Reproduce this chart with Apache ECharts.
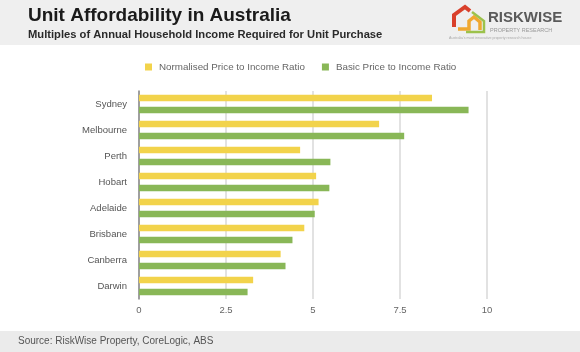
<!DOCTYPE html>
<html><head><meta charset="utf-8">
<script src="https://cdn.jsdelivr.net/npm/echarts@6/dist/echarts.min.js"></script>
<style>html,body{margin:0;padding:0;background:#fff}#c{width:580px;height:352px}</style>
</head><body><div id="c"></div>
<script>
const categories = ['Sydney','Melbourne','Perth','Hobart','Adelaide','Brisbane','Canberra','Darwin'];
const normalised = [8.42, 6.9, 4.63, 5.09, 5.16, 4.75, 4.07, 3.28];
const basic = [9.47, 7.62, 5.5, 5.47, 5.05, 4.41, 4.21, 3.12];
const seriesNames = ['Normalised Price to Income Ratio','Basic Price to Income Ratio'];
const xTicks = [0, 2.5, 5, 7.5, 10];
const titleText = 'Unit Affordability in Australia';
const subtitleText = 'Multiples of Annual Household Income Required for Unit Purchase';
const sourceText = 'Source: RiskWise Property, CoreLogic, ABS';

const chart = echarts.init(document.getElementById('c'), null, {renderer:'canvas'});
const F = 'Liberation Sans, Arial, sans-serif';
chart.setOption({
  animation:false,
  backgroundColor:'#fff',
  graphic:[
    {type:'rect', shape:{x:0,y:0,width:580,height:45}, style:{fill:'#efefef'}, z:-10},
    {type:'rect', shape:{x:0,y:331,width:580,height:21}, style:{fill:'#ebebeb'}, z:-10},
    {type:'text', left:28, top:6, style:{text:titleText, font:'bold 19px '+F, fill:'#1a1a1a'}},
    {type:'text', left:28, top:29, style:{text:subtitleText, font:'bold 11.2px '+F, fill:'#2a2a2a'}},
    {type:'text', left:18, top:336, style:{text:sourceText, font:'10px '+F, fill:'#555'}},
    // logo house
    {type:'polyline', shape:{points:[[454,27],[454,15],[465,7],[470,11]]}, style:{stroke:'#d9402b', lineWidth:4, fill:null}},
    {type:'polyline', shape:{points:[[458,29],[469,29],[469,21],[474,17],[480,22],[480,30]]}, style:{stroke:'#f0a830', lineWidth:3.5, fill:null}},
    {type:'polyline', shape:{points:[[472,12],[484,21],[484,32],[466,32]]}, style:{stroke:'#9cc24b', lineWidth:2.5, fill:null}},
    {type:'text', left:488, top:10, style:{text:'RISKWISE', font:'bold 15px '+F, fill:'#5a5a5a'}},
    {type:'text', left:490, top:27, style:{text:'PROPERTY RESEARCH', font:'5.5px '+F, fill:'#999'}},
    {type:'text', left:449, top:36, style:{text:"Australia's most innovative property research house", font:'3.6px '+F, fill:'#aaa'}}
  ],
  legend:{
    top:62, left:145, padding:0, itemWidth:7, itemHeight:7, itemGap:17, icon:'rect',
    textStyle:{fontSize:9.8, color:'#666', fontFamily:F, padding:[0,0,0,2]},
    data:seriesNames
  },
  grid:{left:139, right:93, top:91, bottom:53, containLabel:false},
  xAxis:{
    type:'value', min:0, max:10, interval:2.5,
    axisLine:{show:false}, axisTick:{show:false},
    splitLine:{show:true, lineStyle:{color:'#d8d8d8', width:1.5}},
    axisLabel:{fontSize:9.5, color:'#666', fontFamily:F, margin:6,
      formatter:v=> xTicks.includes(v) ? String(v) : ''}
  },
  yAxis:{
    type:'category', data:categories, inverse:true,
    axisLine:{show:true, lineStyle:{color:'#888', width:1.5}},
    axisTick:{show:false},
    axisLabel:{fontSize:9.5, color:'#555', fontFamily:F, margin:12}
  },
  series:[
    {name:seriesNames[0], type:'bar', data:normalised, barWidth:6.5, barGap:'85%', itemStyle:{color:'#f2d34b'}},
    {name:seriesNames[1], type:'bar', data:basic, barWidth:6.5, barGap:'85%', itemStyle:{color:'#89b757'}}
  ]
});
</script></body></html>
